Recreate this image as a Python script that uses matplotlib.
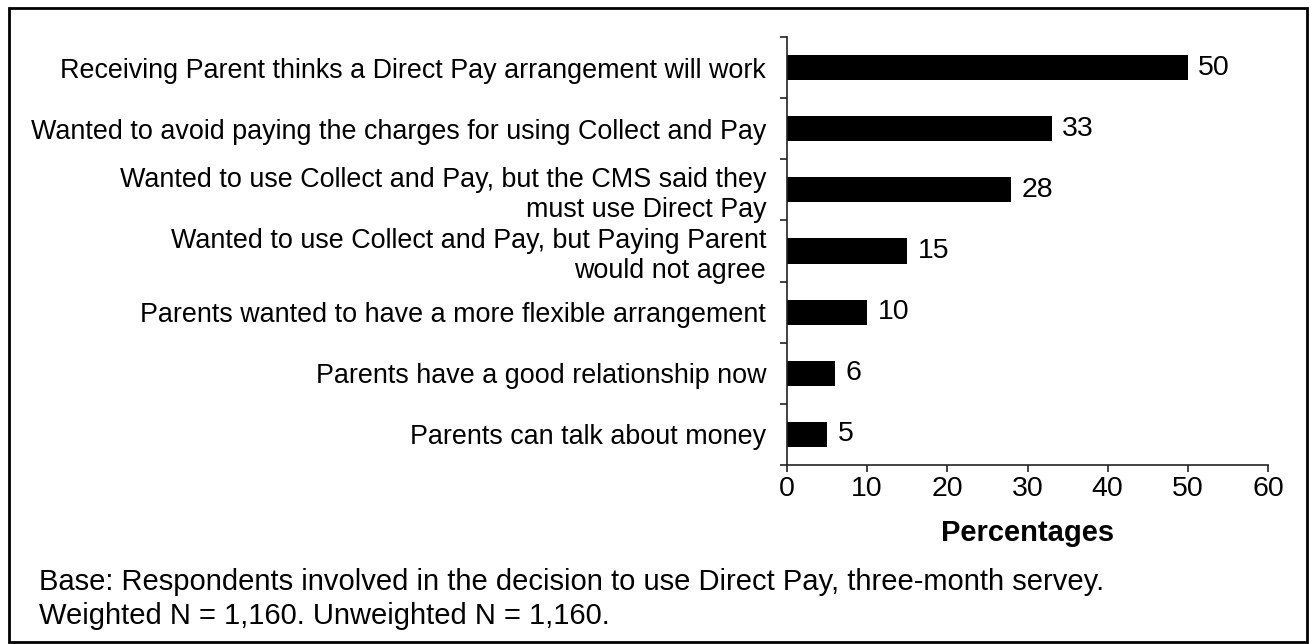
import matplotlib
matplotlib.use("Agg")
import matplotlib.pyplot as plt
from matplotlib.patches import Rectangle

categories = [
    "Receiving Parent thinks a Direct Pay arrangement will work",
    "Wanted to avoid paying the charges for using Collect and Pay",
    "Wanted to use Collect and Pay, but the CMS said they\nmust use Direct Pay",
    "Wanted to use Collect and Pay, but Paying Parent\nwould not agree",
    "Parents wanted to have a more flexible arrangement",
    "Parents have a good relationship now",
    "Parents can talk about money",
]
values = [50, 33, 28, 15, 10, 6, 5]
xticks = [0, 10, 20, 30, 40, 50, 60]
xlabel = "Percentages"
note_lines = ["Base: Respondents involved in the decision to use Direct Pay, three-month servey.",
              "Weighted N = 1,160. Unweighted N = 1,160."]

plt.rcParams['font.family'] = ['Liberation Sans', 'DejaVu Sans']
FS_CAT = 19.4
FS_TICK = 20.5
FS_VAL = 20.5
FS_XL = 21
FS_NOTE = 21

W, H = 1309, 644
fig = plt.figure(figsize=(W / 100, H / 100), dpi=100)
ax_l, ax_r, ax_t, ax_b = 787, 1268, 37, 465
ax = fig.add_axes([ax_l / W, 1 - ax_b / H, (ax_r - ax_l) / W, (ax_b - ax_t) / H])

n = len(categories)
pos = list(range(n))
ax.barh(pos, values, height=0.41, color='black')
ax.set_ylim(n - 0.5, -0.5)
ax.set_xlim(0, 60)
ax.set_xticks(xticks)
ax.set_xticklabels([str(t) for t in xticks], fontsize=FS_TICK)
ax.set_yticks(pos)
ax.set_yticklabels(categories, fontsize=FS_CAT, linespacing=1.2)
ax.tick_params(axis='y', which='major', length=0, pad=15)
ax.set_yticks([i - 0.5 for i in range(n + 1)], minor=True)
ax.tick_params(axis='y', which='minor', length=5, width=1.2, direction='out', color='#222222')
ax.tick_params(axis='x', length=5, width=1.2, direction='out', pad=3, color='#222222')
for s in ['top', 'right']:
    ax.spines[s].set_visible(False)
for s in ['left', 'bottom']:
    ax.spines[s].set_linewidth(1.2)
    ax.spines[s].set_color('#222222')
for i, v in enumerate(values):
    ax.annotate(str(v), xy=(v, i), xytext=(7.5, 0), textcoords='offset points',
                va='center', ha='left', fontsize=FS_VAL)
ax.set_xlabel(xlabel, fontsize=FS_XL, fontweight='bold', va='center')
ax.xaxis.set_label_coords(0.5, (ax_b - 533) / (ax_b - ax_t))

for k, line in enumerate(note_lines):
    fig.text(39 / W, 1 - (582 + 34 * k) / H, line, fontsize=FS_NOTE, va='center', ha='left')

fig.patches.append(Rectangle((9 / W, 2.5 / H), (1306.5 - 9) / W, (641.5 - 8) / H,
                             transform=fig.transFigure, fill=False,
                             edgecolor='black', linewidth=2))
fig.savefig("out.png", dpi=100)
